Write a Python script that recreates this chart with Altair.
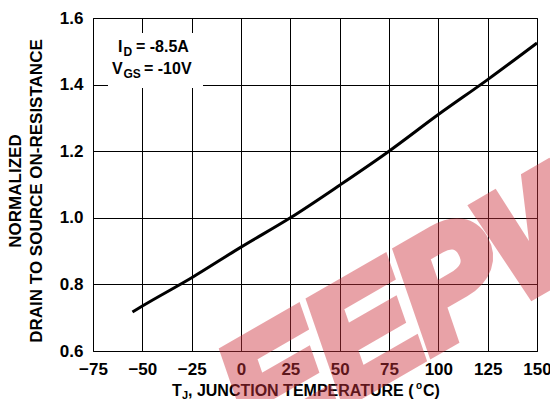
import altair as alt
import pandas as pd

# ---- data ----
temp_c = [-55, -50, -25, 0, 25, 50, 75, 100, 125, 150]
rds_norm = [0.717, 0.735, 0.82, 0.912, 1.0, 1.098, 1.2, 1.31, 1.415, 1.525]
x_ticks = [-75, -50, -25, 0, 25, 50, 75, 100, 125, 150]
y_ticks = [0.6, 0.8, 1.0, 1.2, 1.4, 1.6]
y_title_lines = ["NORMALIZED", "DRAIN TO SOURCE ON-RESISTANCE"]
cond1 = ["I", "D", "= -8.5A"]
cond2 = ["V", "GS", "= -10V"]
x_title = ["T", "J", ", JUNCTION TEMPERATURE (", "o", "C)"]
watermark = "EEPW"

FONT = "Liberation Sans"
W, H = 444, 333
LEFT, TOP = 93, 18  # page position of plot area
SVG_W, SVG_H = 542, 391
PAD = {"left": LEFT - 8, "top": TOP - 8,
       "right": SVG_W - (LEFT - 8) - W, "bottom": SVG_H - (TOP - 8) - H}

df = pd.DataFrame({"t": temp_c, "r": rds_norm})
one = pd.DataFrame({"a": [0]})

xs = alt.Scale(domain=[-75, 150], nice=False, zero=False)
ys = alt.Scale(domain=[0.6, 1.6], nice=False, zero=False)

common_axis = dict(title="", grid=True, gridColor="black", gridWidth=1, gridOpacity=1,
                   domain=False, ticks=False, labelFont=FONT, labelFontSize=17,
                   labelFontWeight="bold", labelColor="black", labelPadding=10,
                   labelFlush=False, labelOverlap=False)

line = alt.Chart(df).mark_line(color="black", strokeWidth=3, interpolate="monotone").encode(
    x=alt.X("t:Q", scale=xs, axis=alt.Axis(values=x_ticks, format="d", **common_axis)),
    y=alt.Y("r:Q", scale=ys, axis=alt.Axis(values=y_ticks, format=".1f", **common_axis)),
)

box = alt.Chart(one).mark_rect(color="white").encode(
    x=alt.value(108 - LEFT), x2=alt.value(203 - LEFT),
    y=alt.value(33 - TOP), y2=alt.value(88 - TOP),
)


def txt(s, px, py, size=16, align="left", angle=0, baseline="alphabetic"):
    return alt.Chart(one).mark_text(
        text=s, align=align, baseline=baseline, angle=angle, font=FONT,
        fontSize=size, fontWeight="bold", color="black",
    ).encode(x=alt.value(px - LEFT), y=alt.value(py - TOP))


texts = [
    txt(cond1[0], 118, 52), txt(cond1[1], 123.5, 56, size=12), txt(cond1[2], 136, 52),
    txt(cond2[0], 112, 74), txt(cond2[1], 123.5, 78, size=12), txt(cond2[2], 144, 74),
    txt(y_title_lines[0], 16, 191, size=17, align="center", angle=270, baseline="middle"),
    txt(y_title_lines[1], 37, 191, size=17, align="center", angle=270, baseline="middle"),
    txt(x_title[0], 172, 396), txt(x_title[1], 182, 399, size=11),
    txt(x_title[2], 188, 396), txt(x_title[3], 416, 389, size=10),
    txt(x_title[4], 423, 396),
]

wm = alt.Chart(one).mark_text(
    text=watermark, align="left", baseline="alphabetic", angle=330, font=FONT,
    fontSize=150, fontWeight="bold", fontStyle="italic", color="#CE333E",
    stroke="#CE333E", strokeWidth=12, opacity=0.45,
).encode(x=alt.value(258 - LEFT), y=alt.value(452 - TOP))

chart = alt.layer(box, line, *texts, wm).properties(
    width=W, height=H, autosize=alt.AutoSizeParams(type="none"), padding=PAD,
).configure_view(stroke="black", strokeWidth=1)

chart.save("out.html", embed_options={"renderer": "svg", "actions": False})
